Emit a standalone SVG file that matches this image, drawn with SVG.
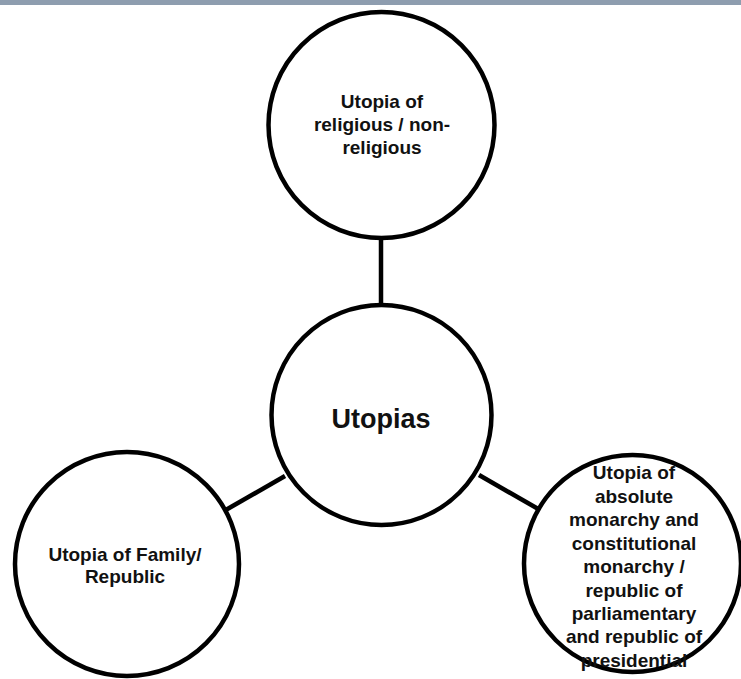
<svg xmlns="http://www.w3.org/2000/svg" width="741" height="679" viewBox="0 0 741 679">
<style>
.node{fill:#fff;stroke:#000;stroke-width:4.5}
.conn{stroke:#000;stroke-width:4.5;fill:none}
.t{font-family:"Liberation Sans",Arial,sans-serif;font-weight:bold;fill:#111;text-anchor:middle;font-size:19px}
.big{font-size:27px}
</style>
<rect x="0" y="0" width="741" height="5" fill="#8E9DAF"/>
<g id="connectors">
<line class="conn" x1="381" y1="235" x2="381" y2="310"/>
<line class="conn" x1="224" y1="511" x2="285" y2="476"/>
<line class="conn" x1="479" y1="475" x2="540" y2="510"/>
</g>
<g id="top">
<circle class="node" cx="381.5" cy="125" r="113"/>
<text class="t" x="382" y="108">Utopia of</text>
<text class="t" x="382" y="131">religious / non-</text>
<text class="t" x="382" y="154">religious</text>
</g>
<g id="center">
<circle class="node" cx="381.5" cy="415" r="110"/>
<text class="t big" x="381" y="428">Utopias</text>
</g>
<g id="left">
<circle class="node" cx="127" cy="564" r="112"/>
<text class="t" x="125" y="561">Utopia of Family/</text>
<text class="t" x="125" y="583">Republic</text>
</g>
<g id="right">
<circle class="node" cx="632.5" cy="563.5" r="108.5"/>
<text class="t" x="634" y="479">Utopia of</text>
<text class="t" x="634" y="503">absolute</text>
<text class="t" x="634" y="526">monarchy and</text>
<text class="t" x="634" y="550">constitutional</text>
<text class="t" x="634" y="573">monarchy /</text>
<text class="t" x="634" y="597">republic of</text>
<text class="t" x="634" y="620">parliamentary</text>
<text class="t" x="634" y="643">and republic of</text>
<text class="t" x="634" y="667">presidential</text>
</g>
</svg>
